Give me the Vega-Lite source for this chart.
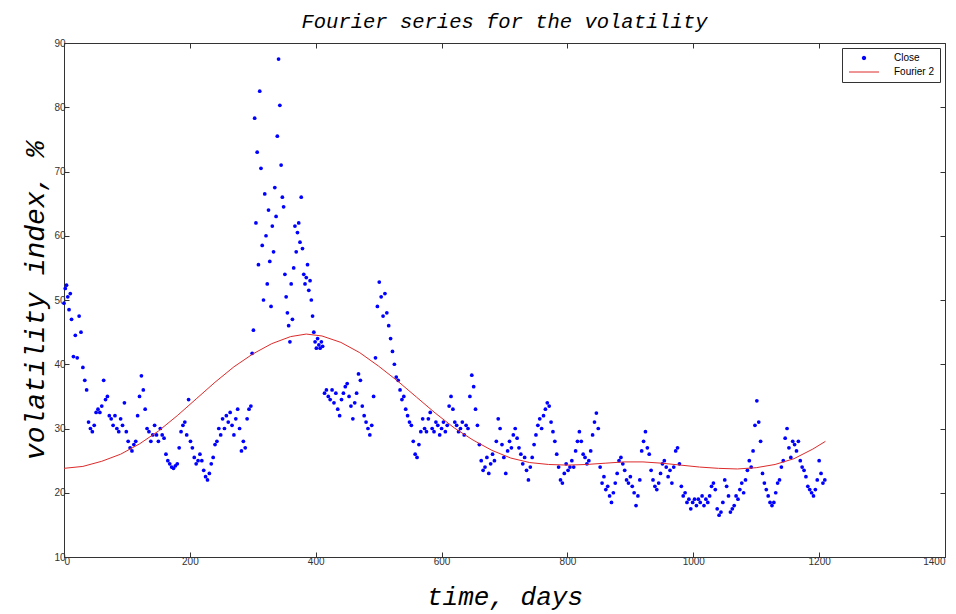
{
"$schema": "https://vega.github.io/schema/vega-lite/v6.json",
"width": 881, "height": 514,
"autosize": {"type": "none"},
"padding": {"left": 64, "top": 43, "right": 11, "bottom": 57},
"background": "white",
"title": {"text": "Fourier series for the volatility", "font": "Liberation Mono", "fontStyle": "italic", "fontWeight": "normal", "fontSize": 20.5, "color": "black", "anchor": "middle", "offset": 6},
"config": {
  "view": {"stroke": "#333333", "strokeWidth": 1},
  "axis": {"grid": false, "domainColor": "#333333", "tickColor": "#333333", "labelFont": "Liberation Sans", "labelFontSize": 10, "labelColor": "#333333", "titleFont": "Liberation Mono", "titleFontStyle": "italic", "titleFontWeight": "normal", "titleColor": "black", "format": "d"},
  "legend": {"orient": "top-right", "offset": 5, "strokeColor": "#333333", "fillColor": "white", "padding": 5, "labelFont": "Liberation Sans", "labelFontSize": 10, "labelColor": "black", "rowPadding": 4, "title": null, "symbolOffset": 12, "labelOffset": 25}
},
"datasets": {
"close": [
{"d":0,"v":49.5},{"d":2,"v":51.8},{"d":4,"v":52.3},{"d":6,"v":50.5},{"d":8,"v":48.5},{"d":10,"v":51.0},{"d":12,"v":47.0},
{"d":15,"v":41.2},{"d":18,"v":44.5},{"d":21,"v":41.0},{"d":24,"v":47.5},{"d":27,"v":45.0},{"d":30,"v":39.5},{"d":33,"v":37.5},{"d":36,"v":36.0},
{"d":39,"v":31.0},{"d":42,"v":30.0},{"d":45,"v":29.5},{"d":48,"v":30.5},{"d":51,"v":32.5},{"d":54,"v":33.0},{"d":57,"v":32.5},{"d":60,"v":33.5},
{"d":63,"v":37.5},{"d":66,"v":34.5},{"d":69,"v":35.0},{"d":72,"v":32.0},{"d":75,"v":31.5},{"d":78,"v":30.5},{"d":81,"v":32.0},{"d":84,"v":30.0},
{"d":87,"v":29.5},{"d":90,"v":31.5},{"d":93,"v":30.5},{"d":96,"v":34.0},{"d":99,"v":29.5},{"d":102,"v":28.0},{"d":105,"v":27.0},{"d":108,"v":26.5},
{"d":111,"v":27.5},{"d":114,"v":28.0},{"d":117,"v":32.0},{"d":120,"v":35.0},{"d":123,"v":38.2},{"d":126,"v":36.0},{"d":129,"v":33.0},{"d":132,"v":30.0},
{"d":135,"v":29.5},{"d":138,"v":28.0},{"d":141,"v":29.0},{"d":144,"v":30.5},{"d":147,"v":29.0},{"d":150,"v":28.0},{"d":153,"v":30.0},{"d":156,"v":29.0},
{"d":159,"v":28.5},{"d":162,"v":26.0},{"d":165,"v":25.0},{"d":168,"v":24.5},{"d":171,"v":24.0},{"d":174,"v":23.8},{"d":177,"v":24.2},{"d":180,"v":24.5},
{"d":183,"v":27.0},{"d":186,"v":29.5},{"d":189,"v":30.5},{"d":192,"v":31.0},{"d":195,"v":29.0},{"d":198,"v":34.5},{"d":201,"v":28.0},{"d":204,"v":27.0},
{"d":207,"v":25.5},{"d":210,"v":24.5},{"d":213,"v":25.0},{"d":216,"v":26.0},{"d":219,"v":25.0},{"d":222,"v":23.5},{"d":225,"v":22.5},{"d":228,"v":22.0},
{"d":231,"v":23.0},{"d":234,"v":24.5},{"d":237,"v":25.5},{"d":240,"v":27.5},{"d":243,"v":28.0},{"d":246,"v":30.0},{"d":249,"v":29.0},{"d":252,"v":31.5},
{"d":255,"v":30.0},{"d":258,"v":32.0},{"d":261,"v":31.0},{"d":264,"v":32.5},{"d":267,"v":30.5},{"d":270,"v":29.0},{"d":273,"v":31.5},{"d":276,"v":33.0},
{"d":279,"v":30.0},{"d":282,"v":26.5},{"d":285,"v":28.0},{"d":288,"v":27.0},{"d":291,"v":31.5},{"d":294,"v":33.0},{"d":297,"v":33.5},
{"d":299,"v":41.7},{"d":301,"v":45.3},{"d":303,"v":78.3},{"d":305,"v":62.0},{"d":307,"v":73.0},{"d":309,"v":55.5},{"d":311,"v":82.5},{"d":313,"v":70.5},
{"d":315,"v":58.5},{"d":317,"v":50.0},{"d":319,"v":66.5},{"d":321,"v":60.0},{"d":323,"v":52.5},{"d":325,"v":64.0},{"d":327,"v":56.0},{"d":329,"v":49.0},
{"d":331,"v":61.5},{"d":333,"v":57.5},{"d":335,"v":67.5},{"d":337,"v":63.0},{"d":339,"v":75.5},{"d":341,"v":87.5},{"d":343,"v":80.3},{"d":345,"v":71.0},
{"d":347,"v":66.0},{"d":349,"v":64.5},{"d":351,"v":54.0},{"d":353,"v":50.5},{"d":355,"v":48.0},{"d":357,"v":46.0},{"d":359,"v":43.5},{"d":361,"v":52.5},
{"d":363,"v":47.0},{"d":365,"v":55.0},{"d":367,"v":61.5},{"d":369,"v":57.5},{"d":371,"v":60.5},{"d":373,"v":62.0},{"d":375,"v":59.0},{"d":377,"v":66.0},
{"d":379,"v":58.0},{"d":381,"v":54.0},{"d":383,"v":52.5},{"d":385,"v":53.5},{"d":387,"v":55.5},{"d":389,"v":51.5},{"d":391,"v":53.0},{"d":393,"v":50.0},
{"d":395,"v":47.5},{"d":397,"v":45.0},{"d":399,"v":43.5},{"d":401,"v":42.5},{"d":403,"v":44.0},{"d":405,"v":43.0},{"d":407,"v":42.5},{"d":409,"v":43.5},{"d":411,"v":42.8},
{"d":414,"v":35.5},{"d":417,"v":36.0},{"d":420,"v":35.0},{"d":423,"v":34.5},{"d":426,"v":36.0},{"d":429,"v":34.0},{"d":432,"v":35.5},{"d":435,"v":33.0},
{"d":438,"v":32.0},{"d":441,"v":34.5},{"d":444,"v":35.5},{"d":447,"v":36.5},{"d":450,"v":37.0},{"d":453,"v":35.0},{"d":456,"v":33.5},{"d":459,"v":31.5},
{"d":462,"v":34.0},{"d":465,"v":35.5},{"d":468,"v":38.5},{"d":471,"v":37.5},{"d":474,"v":33.5},{"d":477,"v":32.0},{"d":480,"v":31.0},{"d":483,"v":30.0},
{"d":486,"v":29.0},{"d":489,"v":30.5},{"d":492,"v":35.0},{"d":495,"v":41.0},{"d":498,"v":49.0},{"d":501,"v":52.8},{"d":504,"v":50.5},{"d":507,"v":47.5},
{"d":510,"v":51.0},{"d":513,"v":48.0},{"d":516,"v":46.0},{"d":519,"v":44.0},{"d":522,"v":42.0},{"d":525,"v":40.0},{"d":528,"v":38.0},{"d":531,"v":37.5},
{"d":534,"v":36.0},{"d":537,"v":34.5},{"d":540,"v":35.0},{"d":543,"v":33.0},{"d":546,"v":32.0},{"d":549,"v":31.0},{"d":552,"v":30.5},{"d":555,"v":28.0},
{"d":558,"v":26.0},{"d":561,"v":25.5},{"d":564,"v":27.5},{"d":567,"v":29.5},{"d":570,"v":31.5},{"d":573,"v":30.0},{"d":576,"v":29.5},{"d":579,"v":31.5},
{"d":582,"v":32.5},{"d":585,"v":30.0},{"d":588,"v":29.5},{"d":591,"v":31.0},{"d":594,"v":30.5},{"d":597,"v":29.0},{"d":600,"v":30.0},{"d":603,"v":31.0},
{"d":606,"v":29.5},{"d":609,"v":30.5},{"d":612,"v":33.5},{"d":615,"v":35.0},{"d":618,"v":33.0},{"d":621,"v":31.0},{"d":624,"v":30.5},{"d":627,"v":29.5},
{"d":630,"v":30.0},{"d":633,"v":31.0},{"d":636,"v":29.0},{"d":639,"v":30.5},{"d":642,"v":30.0},{"d":645,"v":35.0},{"d":648,"v":38.3},{"d":651,"v":36.5},
{"d":654,"v":33.0},{"d":657,"v":30.5},{"d":660,"v":27.5},{"d":663,"v":25.0},{"d":666,"v":23.5},{"d":669,"v":24.0},{"d":672,"v":25.5},{"d":675,"v":23.0},
{"d":678,"v":24.5},{"d":681,"v":26.0},{"d":684,"v":25.0},{"d":687,"v":28.0},{"d":690,"v":31.5},{"d":693,"v":30.0},{"d":696,"v":27.5},{"d":699,"v":25.5},
{"d":702,"v":23.0},{"d":705,"v":26.5},{"d":708,"v":28.0},{"d":711,"v":27.0},{"d":714,"v":29.0},{"d":717,"v":30.0},{"d":720,"v":28.5},{"d":723,"v":27.0},
{"d":726,"v":26.0},{"d":729,"v":24.5},{"d":732,"v":25.5},{"d":735,"v":23.5},{"d":738,"v":22.0},{"d":741,"v":24.0},{"d":744,"v":25.5},{"d":747,"v":27.5},
{"d":750,"v":29.0},{"d":753,"v":30.5},{"d":756,"v":31.5},{"d":759,"v":30.0},{"d":762,"v":32.0},{"d":765,"v":33.0},{"d":768,"v":34.0},{"d":771,"v":33.5},
{"d":774,"v":31.0},{"d":777,"v":29.5},{"d":780,"v":28.0},{"d":783,"v":26.0},{"d":786,"v":24.0},{"d":789,"v":22.0},{"d":792,"v":21.5},{"d":795,"v":23.0},
{"d":798,"v":24.5},{"d":801,"v":23.5},{"d":804,"v":24.0},{"d":807,"v":25.0},{"d":810,"v":24.0},{"d":813,"v":26.5},{"d":816,"v":28.0},{"d":819,"v":29.5},
{"d":822,"v":28.0},{"d":825,"v":26.0},{"d":828,"v":25.5},{"d":831,"v":24.5},{"d":834,"v":25.0},{"d":837,"v":26.5},{"d":840,"v":29.0},{"d":843,"v":31.0},
{"d":846,"v":32.4},{"d":849,"v":30.0},{"d":852,"v":24.0},{"d":855,"v":21.5},{"d":858,"v":22.5},{"d":861,"v":20.5},{"d":864,"v":21.0},{"d":867,"v":19.5},
{"d":870,"v":18.5},{"d":873,"v":20.0},{"d":876,"v":21.5},{"d":879,"v":23.0},{"d":882,"v":25.0},{"d":885,"v":25.5},{"d":888,"v":24.5},{"d":891,"v":23.5},
{"d":894,"v":22.0},{"d":897,"v":21.5},{"d":900,"v":22.5},{"d":903,"v":21.0},{"d":906,"v":20.0},{"d":909,"v":18.0},{"d":912,"v":19.5},{"d":915,"v":22.0},
{"d":918,"v":26.5},{"d":921,"v":28.0},{"d":924,"v":29.5},{"d":927,"v":27.0},{"d":930,"v":26.0},{"d":933,"v":23.5},{"d":936,"v":22.0},{"d":939,"v":21.0},
{"d":942,"v":20.5},{"d":945,"v":21.5},{"d":948,"v":23.0},{"d":951,"v":24.5},{"d":954,"v":25.0},{"d":957,"v":24.0},{"d":960,"v":22.5},{"d":963,"v":23.5},
{"d":966,"v":21.5},{"d":969,"v":24.0},{"d":972,"v":26.5},{"d":975,"v":27.0},{"d":978,"v":24.5},{"d":981,"v":21.0},{"d":984,"v":19.5},{"d":987,"v":20.0},
{"d":990,"v":18.5},{"d":993,"v":19.0},{"d":996,"v":17.5},{"d":999,"v":18.5},{"d":1002,"v":19.0},{"d":1005,"v":18.0},{"d":1008,"v":19.0},{"d":1011,"v":18.5},
{"d":1014,"v":19.5},{"d":1017,"v":18.0},{"d":1020,"v":19.0},{"d":1023,"v":18.5},{"d":1026,"v":19.5},{"d":1029,"v":21.0},{"d":1032,"v":21.5},{"d":1035,"v":20.5},
{"d":1038,"v":17.5},{"d":1041,"v":16.5},{"d":1044,"v":17.0},{"d":1047,"v":18.5},{"d":1050,"v":22.0},{"d":1053,"v":21.0},{"d":1056,"v":19.5},{"d":1059,"v":17.0},
{"d":1062,"v":17.5},{"d":1065,"v":18.0},{"d":1068,"v":19.5},{"d":1071,"v":19.0},{"d":1074,"v":20.5},{"d":1077,"v":21.5},{"d":1080,"v":20.0},{"d":1083,"v":22.0},
{"d":1086,"v":23.5},{"d":1089,"v":25.0},{"d":1092,"v":24.0},{"d":1095,"v":26.5},{"d":1098,"v":30.5},{"d":1101,"v":34.3},{"d":1104,"v":31.0},{"d":1107,"v":28.0},
{"d":1110,"v":23.0},{"d":1113,"v":21.5},{"d":1116,"v":20.5},{"d":1119,"v":19.5},{"d":1122,"v":18.5},{"d":1125,"v":18.0},{"d":1128,"v":18.5},{"d":1131,"v":20.0},
{"d":1134,"v":21.5},{"d":1137,"v":22.0},{"d":1140,"v":24.0},{"d":1143,"v":25.0},{"d":1146,"v":28.5},{"d":1149,"v":30.0},{"d":1152,"v":27.0},{"d":1155,"v":25.5},
{"d":1158,"v":28.0},{"d":1161,"v":27.5},{"d":1164,"v":26.5},{"d":1167,"v":28.0},{"d":1170,"v":25.0},{"d":1173,"v":24.0},{"d":1176,"v":23.5},{"d":1179,"v":22.5},
{"d":1182,"v":21.0},{"d":1185,"v":20.5},{"d":1188,"v":20.0},{"d":1191,"v":19.5},{"d":1194,"v":20.5},{"d":1197,"v":22.0},{"d":1200,"v":25.0},{"d":1203,"v":23.0},
{"d":1206,"v":21.5},{"d":1209,"v":22.0}
],
"fourier": [
{"d":0,"v":23.8},{"d":30,"v":24.1},{"d":60,"v":24.9},{"d":90,"v":26.0},{"d":120,"v":27.6},{"d":150,"v":29.6},{"d":180,"v":32.0},{"d":210,"v":34.6},
{"d":240,"v":37.2},{"d":270,"v":39.6},{"d":300,"v":41.6},{"d":330,"v":43.2},{"d":360,"v":44.3},{"d":385,"v":44.7},{"d":410,"v":44.4},{"d":440,"v":43.4},
{"d":470,"v":41.8},{"d":500,"v":39.7},{"d":530,"v":37.4},{"d":560,"v":34.9},{"d":590,"v":32.4},{"d":620,"v":30.1},{"d":650,"v":28.2},{"d":680,"v":26.6},
{"d":710,"v":25.4},{"d":740,"v":24.7},{"d":770,"v":24.4},{"d":800,"v":24.3},{"d":830,"v":24.4},{"d":860,"v":24.6},{"d":890,"v":24.8},{"d":920,"v":24.8},
{"d":950,"v":24.6},{"d":980,"v":24.3},{"d":1010,"v":24.0},{"d":1040,"v":23.8},{"d":1070,"v":23.7},{"d":1100,"v":23.9},{"d":1130,"v":24.4},{"d":1160,"v":25.3},
{"d":1190,"v":26.8},{"d":1210,"v":28.0}
]
},
"layer": [
{
  "data": {"name": "close"},
  "mark": {"type": "point", "shape": "circle", "filled": true, "size": 14, "opacity": 1},
  "encoding": {
    "x": {"field": "d", "type": "quantitative", "scale": {"domain": [0, 1400], "nice": false}, "axis": {"values": [0,200,400,600,800,1000,1200,1400], "title": "time, days", "titleFontSize": 26, "titlePadding": 17, "tickSize": -5, "labelPadding": 4}},
    "y": {"field": "v", "type": "quantitative", "scale": {"domain": [10, 90], "nice": false, "zero": false}, "axis": {"values": [10,20,30,40,50,60,70,80,90], "title": "volatility index, %", "titleFontSize": 28, "titlePadding": 4, "tickSize": -5, "labelPadding": 4}},
    "color": {"datum": "Close", "type": "nominal", "scale": {"domain": ["Close", "Fourier 2"], "range": ["#0000ff", "#dd2a2a"]},
      "legend": {"symbolLimit": 2, "encode": {"symbols": {"update": {
        "shape": {"signal": "datum.value === 'Fourier 2' ? 'stroke' : 'circle'"},
        "size": {"signal": "datum.value === 'Fourier 2' ? 900 : 12"},
        "strokeWidth": {"value": 1},
        "stroke": {"signal": "datum.value === 'Fourier 2' ? '#dd4444' : '#0000ff'"},
        "fill": {"signal": "datum.value === 'Fourier 2' ? 'transparent' : '#0000ff'"}
      }}}}
    }
  }
},
{
  "data": {"name": "fourier"},
  "mark": {"type": "line", "strokeWidth": 1},
  "encoding": {
    "x": {"field": "d", "type": "quantitative", "axis": {"orient": "top", "values": [0,200,400,600,800,1000,1200,1400], "labels": false, "title": null, "tickSize": -5, "domain": false}},
    "y": {"field": "v", "type": "quantitative", "axis": {"orient": "right", "values": [10,20,30,40,50,60,70,80,90], "labels": false, "title": null, "tickSize": -5, "domain": false}},
    "color": {"datum": "Fourier 2", "type": "nominal",
      "legend": {"symbolLimit": 2, "encode": {"symbols": {"update": {
        "shape": {"signal": "datum.value === 'Fourier 2' ? 'stroke' : 'circle'"},
        "size": {"signal": "datum.value === 'Fourier 2' ? 900 : 12"},
        "strokeWidth": {"value": 1},
        "stroke": {"signal": "datum.value === 'Fourier 2' ? '#dd4444' : '#0000ff'"},
        "fill": {"signal": "datum.value === 'Fourier 2' ? 'transparent' : '#0000ff'"}
      }}}}
    }
  }
}
],
"resolve": {"axis": {"x": "independent", "y": "independent"}}
}
